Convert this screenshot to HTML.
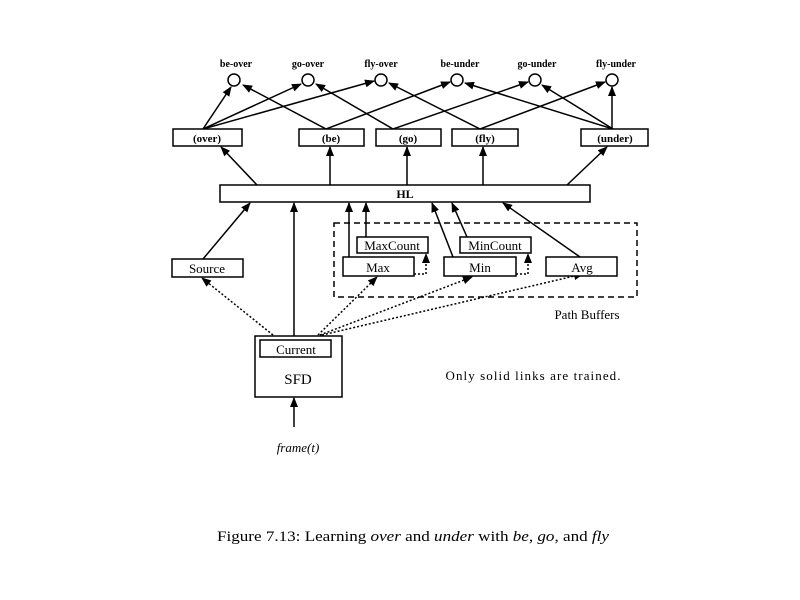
<!DOCTYPE html>
<html><head><meta charset="utf-8"><style>
html,body{margin:0;padding:0;background:#fff;}
svg{display:block;}
text{font-family:"Liberation Serif",serif;fill:#000;}
</style></head><body>
<svg width="800" height="600" viewBox="0 0 800 600" xmlns="http://www.w3.org/2000/svg">
<defs>
<marker id="a" markerWidth="10" markerHeight="8" refX="9" refY="4" orient="auto" markerUnits="userSpaceOnUse">
<path d="M0,0 L10,4 L0,8 z" fill="#000"/></marker>
</defs>
<g font-size="10" font-weight="bold" text-anchor="middle">
<text x="236" y="67">be-over</text>
<text x="308" y="67">go-over</text>
<text x="381" y="67">fly-over</text>
<text x="460" y="67">be-under</text>
<text x="537" y="67">go-under</text>
<text x="616" y="67">fly-under</text>
</g>
<g fill="#fff" stroke="#000" stroke-width="1.5">
<circle cx="234" cy="80" r="6"/><circle cx="308" cy="80" r="6"/><circle cx="381" cy="80" r="6"/>
<circle cx="457" cy="80" r="6"/><circle cx="535" cy="80" r="6"/><circle cx="612" cy="80" r="6"/>
</g>
<g stroke="#000" stroke-width="1.5" fill="none" marker-end="url(#a)">
<line x1="203" y1="129" x2="231" y2="87"/>
<line x1="203" y1="129" x2="301" y2="84"/>
<line x1="203" y1="129" x2="374" y2="81"/>
<line x1="326" y1="129" x2="243" y2="85"/>
<line x1="326" y1="129" x2="450" y2="82"/>
<line x1="393" y1="129" x2="316" y2="84"/>
<line x1="393" y1="129" x2="528" y2="82"/>
<line x1="480" y1="129" x2="389" y2="83"/>
<line x1="480" y1="129" x2="605" y2="82"/>
<line x1="613" y1="129" x2="465" y2="83"/>
<line x1="613" y1="129" x2="542" y2="85"/>
<line x1="612" y1="129" x2="612" y2="87"/>
<line x1="257" y1="185" x2="221" y2="147"/>
<line x1="330" y1="185" x2="330" y2="147"/>
<line x1="407" y1="185" x2="407" y2="147"/>
<line x1="483" y1="185" x2="483" y2="147"/>
<line x1="567" y1="185" x2="607" y2="147"/>
<line x1="203" y1="259" x2="250" y2="203"/>
<line x1="294" y1="336" x2="294" y2="203"/>
<line x1="294" y1="427" x2="294" y2="398"/>
<line x1="349" y1="257" x2="349" y2="203"/>
<line x1="366" y1="237" x2="366" y2="203"/>
<line x1="453" y1="257" x2="432" y2="203"/>
<line x1="467" y1="237" x2="452" y2="203"/>
<line x1="580" y1="257" x2="503" y2="203"/>
</g>
<g stroke="#000" stroke-width="1.5" fill="none" stroke-dasharray="2,2" marker-end="url(#a)">
<line x1="273" y1="335" x2="202" y2="278"/>
<line x1="318" y1="335" x2="377" y2="277"/>
<line x1="320" y1="335" x2="472" y2="277"/>
<line x1="322" y1="335" x2="583" y2="274"/>
<polyline points="414,274 426,274 426,254"/>
<polyline points="516,274 528,274 528,254"/>
</g>
<rect x="334" y="223" width="303" height="74" fill="none" stroke="#000" stroke-width="1.5" stroke-dasharray="6,4"/>
<g fill="#fff" stroke="#000" stroke-width="1.5">
<rect x="173" y="129" width="69" height="17"/>
<rect x="299" y="129" width="65" height="17"/>
<rect x="376" y="129" width="65" height="17"/>
<rect x="452" y="129" width="66" height="17"/>
<rect x="581" y="129" width="67" height="17"/>
<rect x="220" y="185" width="370" height="17"/>
<rect x="172" y="259" width="71" height="18"/>
<rect x="343" y="257" width="71" height="19"/>
<rect x="357" y="237" width="71" height="16"/>
<rect x="444" y="257" width="72" height="19"/>
<rect x="460" y="237" width="71" height="16"/>
<rect x="546" y="257" width="71" height="19"/>
<rect x="255" y="336" width="87" height="61"/>
<rect x="260" y="340" width="71" height="17"/>
</g>
<g font-size="11" font-weight="bold" text-anchor="middle">
<text x="207" y="142">(over)</text>
<text x="331" y="142">(be)</text>
<text x="408" y="142">(go)</text>
<text x="485" y="142">(fly)</text>
<text x="615" y="142">(under)</text>
<text x="405" y="198" font-size="12">HL</text>
</g>
<g font-size="13" text-anchor="middle">
<text x="207" y="273">Source</text>
<text x="378" y="272">Max</text>
<text x="392" y="250">MaxCount</text>
<text x="480" y="272">Min</text>
<text x="495" y="250">MinCount</text>
<text x="582" y="272">Avg</text>
<text x="296" y="354">Current</text>
<text x="298" y="384" font-size="15">SFD</text>
<text x="587" y="319">Path Buffers</text>
<text x="533" y="380" textLength="175">Only solid links are trained.</text>
<text x="298" y="452" font-style="italic">frame(t)</text>
</g>
<text x="217" y="541" font-size="15" textLength="392" lengthAdjust="spacingAndGlyphs">Figure 7.13: Learning <tspan font-style="italic">over</tspan> and <tspan font-style="italic">under</tspan> with <tspan font-style="italic">be</tspan>, <tspan font-style="italic">go</tspan>, and <tspan font-style="italic">fly</tspan></text>
</svg>
</body></html>
